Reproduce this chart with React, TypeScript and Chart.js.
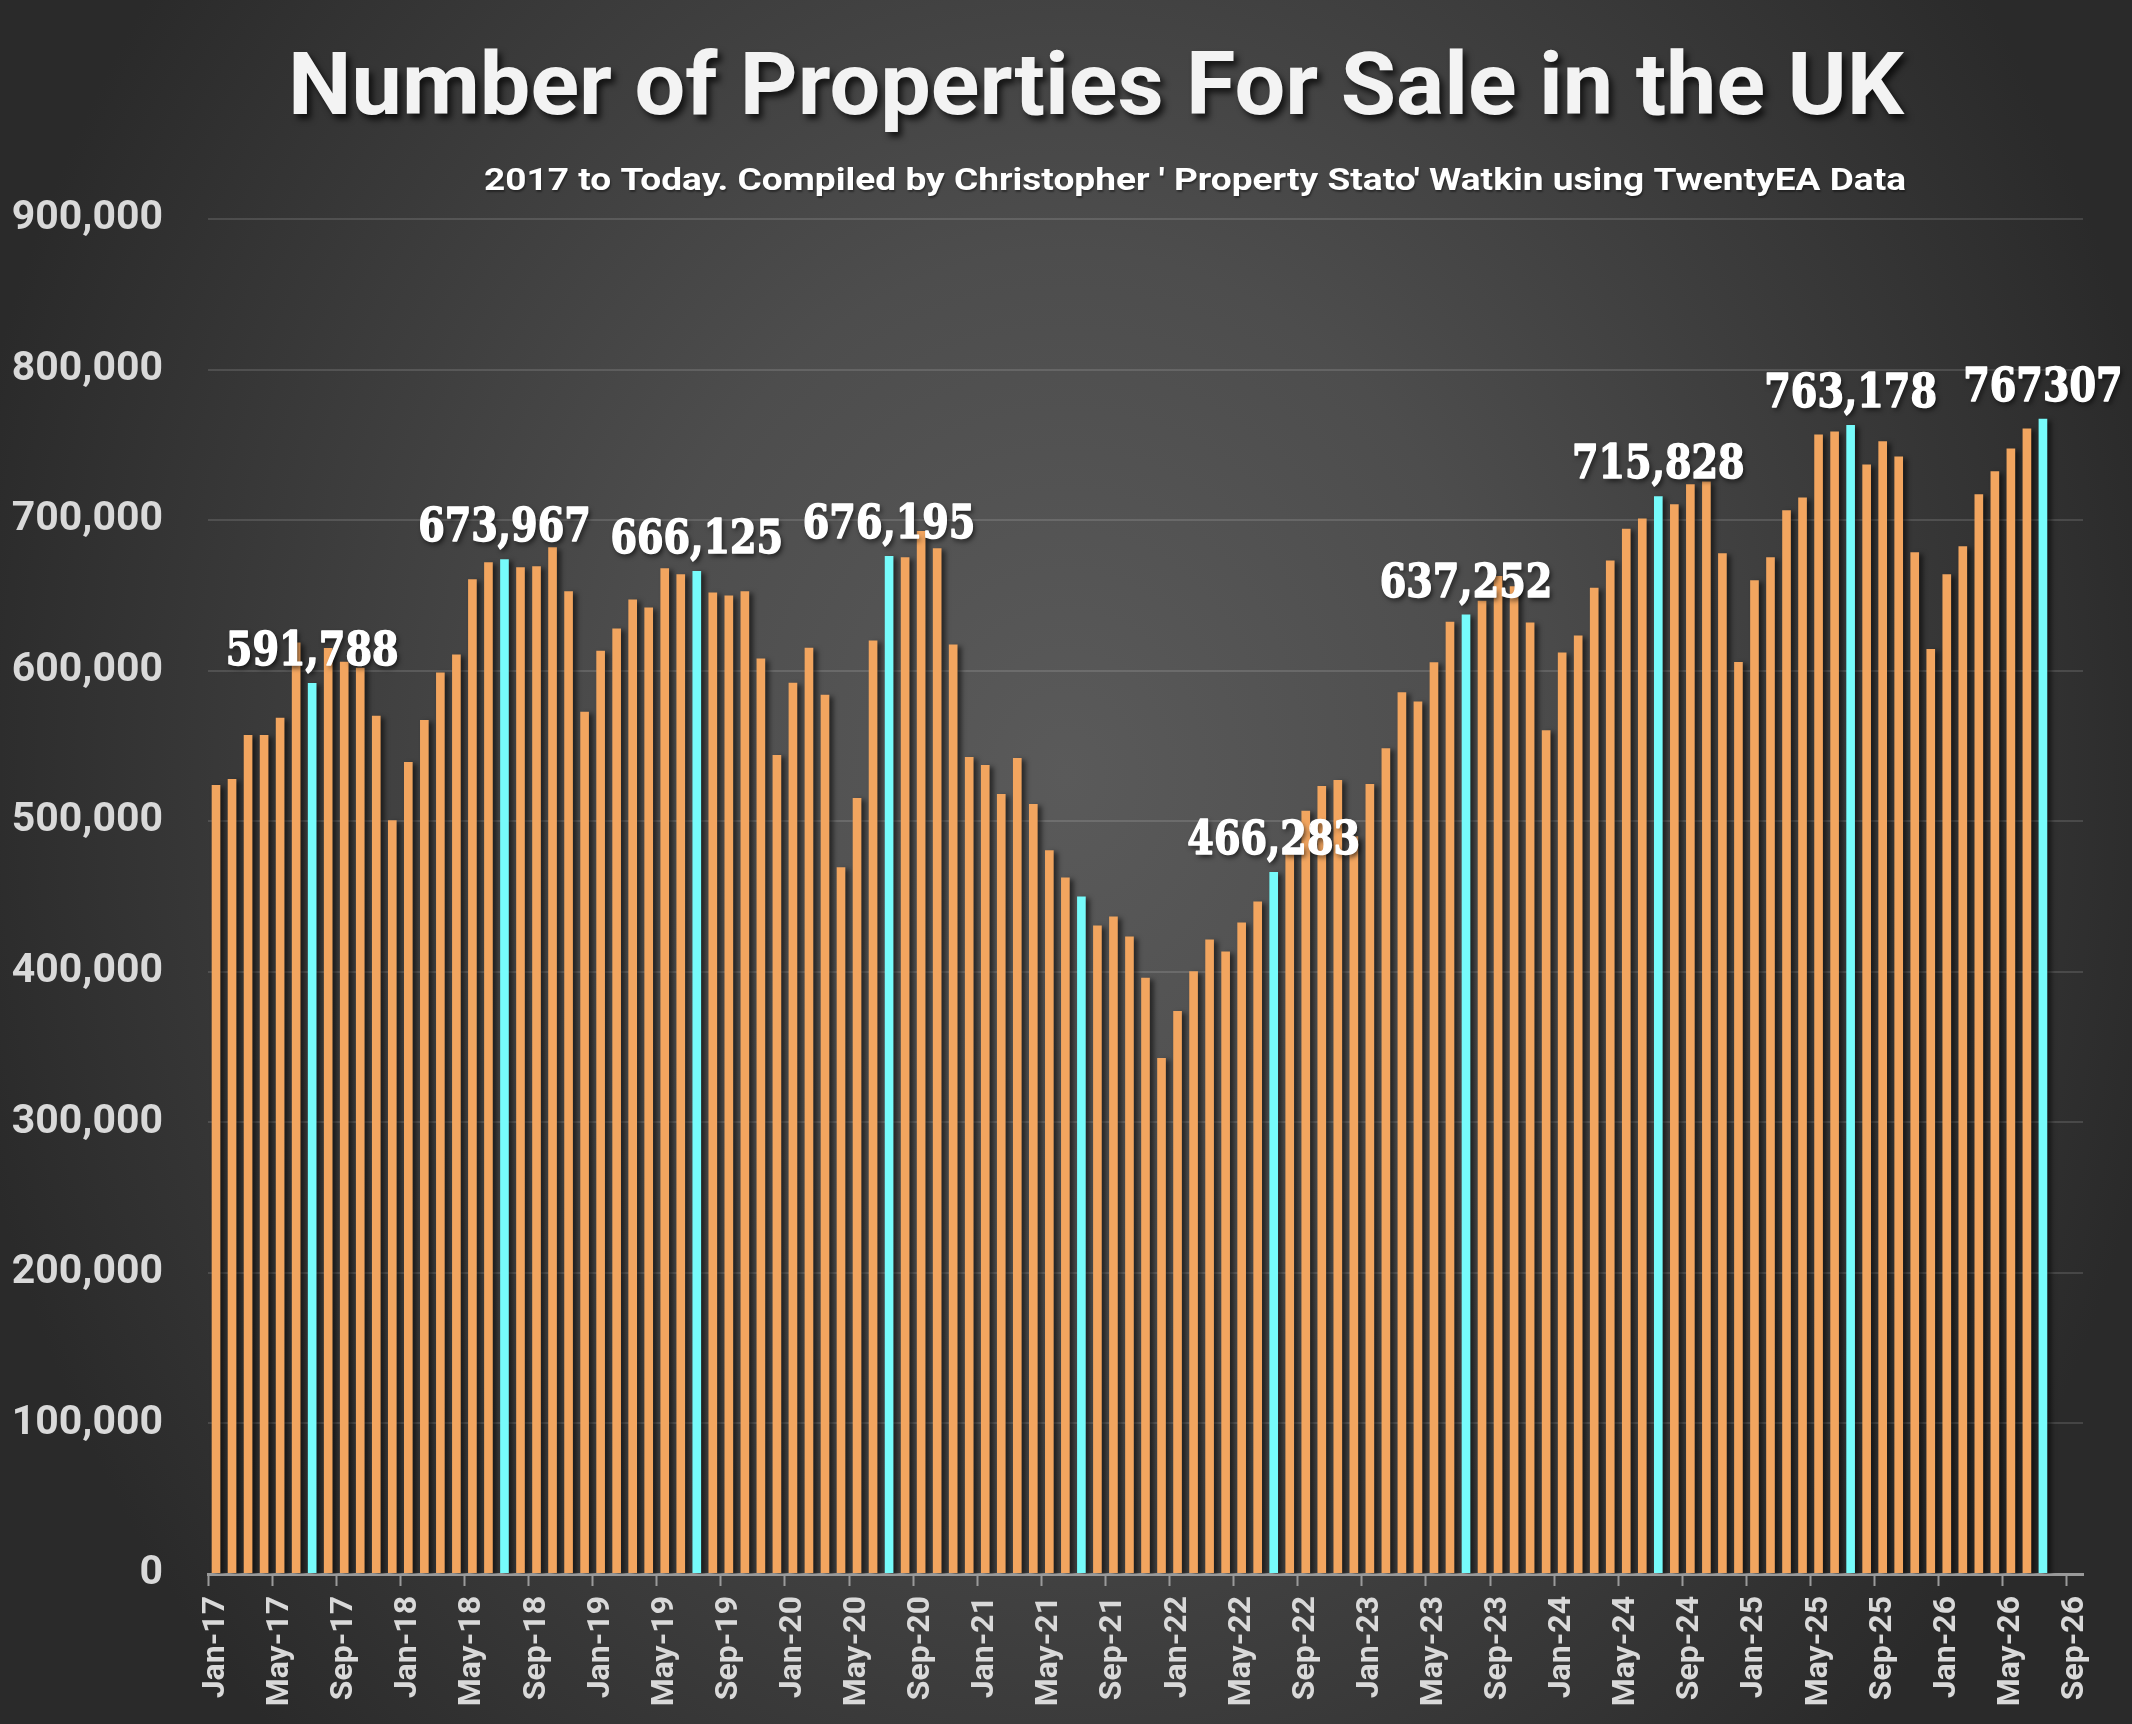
import { useEffect, useRef } from "react";
import Chart from "chart.js/auto";

const TITLE = "Number of Properties For Sale in the UK";
const SUBTITLE =
  "2017 to Today. Compiled by Christopher ' Property Stato' Watkin using TwentyEA Data";

const MONTHS = ["Jan", "Feb", "Mar", "Apr", "May", "Jun", "Jul", "Aug", "Sep", "Oct", "Nov", "Dec"];
const YEARS = ["17", "18", "19", "20", "21", "22", "23", "24", "25", "26"];
const LAST_CATEGORY = "Sep-26";

// monthly counts
const y2017 = [524000, 528000, 557300, 557300, 568700, 618700, 591788, 615000, 606000, 602000, 570000, 500700];
const y2018 = [539300, 567300, 598700, 610700, 660700, 672000, 673967, 668700, 669400, 682000, 652700, 572700];
const y2019 = [613300, 628000, 647300, 642000, 668000, 664000, 666125, 652000, 650000, 652700, 608000, 544000];
const y2020 = [592000, 615300, 584000, 469400, 515400, 620000, 676195, 675300, 692700, 681300, 617300, 542700];
const y2021 = [537400, 518000, 542000, 511400, 480700, 462700, 450000, 430700, 436700, 423400, 396000, 342700];
const y2022 = [373900, 400300, 421500, 413400, 432800, 446700, 466283, 478300, 506900, 523400, 527300, 490000];
const y2023 = [524700, 548500, 585700, 579600, 605600, 632500, 637252, 646400, 662900, 656000, 632000, 560500];
const y2024 = [612100, 623400, 655000, 673100, 694300, 701000, 715828, 710500, 723800, 725700, 678000, 605700];
const y2025 = [660100, 675400, 706500, 715100, 756900, 758900, 763178, 737000, 752300, 742300, 678700, 614400];
const y2026 = [664100, 682600, 717100, 732400, 747600, 760900, 767307];

const calloutMonths = ["Jul-17", "Jul-18", "Jul-19", "Jul-20", "Jul-22", "Jul-23", "Jul-24", "Jul-25", "Jul-26"];
const calloutTexts = ["591,788", "673,967", "666,125", "676,195", "466,283", "637,252", "715,828", "763,178", "767307"];

const HIGHLIGHT_MONTH = "Jul";

const categories: string[] = [];
for (const yy of YEARS) {
  for (const mm of MONTHS) {
    if (categories[categories.length - 1] === LAST_CATEGORY) break;
    categories.push(`${mm}-${yy}`);
  }
}

const observed = [
  ...y2017, ...y2018, ...y2019, ...y2020, ...y2021,
  ...y2022, ...y2023, ...y2024, ...y2025, ...y2026,
];
const listings: (number | null)[] = categories.map((_, i) =>
  i < observed.length ? observed[i] : null
);

const ORANGE = "#f2a55f";
const CYAN = "#76fbfb";
const TEXT_GREY = "#d9d9d9";
const SANS = "Roboto, 'Open Sans', sans-serif";

function drawFittedText(
  ctx: CanvasRenderingContext2D,
  text: string,
  x: number,
  y: number,
  font: string,
  width: number,
  align: CanvasTextAlign,
  color: string,
  shadow: string,
  shadowX: number,
  shadowY: number,
  blur: number
) {
  ctx.save();
  ctx.font = font;
  const measured = ctx.measureText(text).width;
  ctx.translate(x, y);
  ctx.scale(width / measured, 1);
  ctx.textAlign = align;
  ctx.textBaseline = "alphabetic";
  ctx.shadowColor = shadow;
  ctx.shadowOffsetX = shadowX;
  ctx.shadowOffsetY = shadowY;
  ctx.shadowBlur = blur;
  ctx.fillStyle = color;
  ctx.fillText(text, 0, 0);
  ctx.restore();
}

const headerText = {
  id: "headerText",
  afterDraw(chart: Chart) {
    const ctx = chart.ctx;
    drawFittedText(ctx, TITLE, 1096, 114, `bold 88px ${SANS}`, 1616, "center",
      "#f3f3f3", "rgba(0,0,0,0.7)", 4, 5, 6);
    drawFittedText(ctx, SUBTITLE, 1906, 190, `bold 32px ${SANS}`, 1422, "right",
      "#ffffff", "rgba(0,0,0,0.4)", 1, 2, 2);
  },
};

const barShadow = {
  id: "barShadow",
  beforeDatasetsDraw(chart: Chart) {
    const ctx = chart.ctx;
    ctx.save();
    ctx.shadowColor = "rgba(0,0,0,0.55)";
    ctx.shadowOffsetX = 4;
    ctx.shadowOffsetY = 2;
    ctx.shadowBlur = 5;
  },
  afterDatasetsDraw(chart: Chart) {
    chart.ctx.restore();
  },
};

const callouts = {
  id: "callouts",
  afterDatasetsDraw(chart: Chart) {
    const ctx = chart.ctx;
    const meta = chart.getDatasetMeta(0);
    calloutMonths.forEach((month, k) => {
      const el: any = meta.data[categories.indexOf(month)];
      if (!el) return;
      ctx.save();
      ctx.font = "bold 46px 'DejaVu Serif', serif";
      ctx.translate(el.x, el.y - 18);
      ctx.scale(0.83, 1);
      ctx.textAlign = "center";
      ctx.textBaseline = "alphabetic";
      ctx.shadowColor = "rgba(0,0,0,0.65)";
      ctx.shadowOffsetX = 2;
      ctx.shadowOffsetY = 3;
      ctx.shadowBlur = 5;
      ctx.fillStyle = "#ffffff";
      ctx.strokeStyle = "#ffffff";
      ctx.lineWidth = 1.5;
      ctx.lineJoin = "round";
      ctx.fillText(calloutTexts[k], 0, 0);
      ctx.shadowColor = "rgba(0,0,0,0)";
      ctx.strokeText(calloutTexts[k], 0, 0);
      ctx.restore();
    });
  },
};

export default function App() {
  const canvasRef = useRef<HTMLCanvasElement | null>(null);

  useEffect(() => {
    document.body.style.margin = "0";
    if (!canvasRef.current) return;

    const chart = new Chart(canvasRef.current, {
      type: "bar",
      data: {
        labels: categories,
        datasets: [
          {
            data: listings,
            backgroundColor: (c: any) =>
              categories[c.dataIndex]?.startsWith(HIGHLIGHT_MONTH) ? CYAN : ORANGE,
            borderWidth: 0,
            barPercentage: 0.54,
            categoryPercentage: 1,
          },
        ],
      },
      options: {
        responsive: true,
        maintainAspectRatio: false,
        animation: false,
        layout: {
          padding: { top: 219, right: 49, left: 0, bottom: 0 },
        },
        plugins: {
          legend: { display: false },
          tooltip: { enabled: false },
        },
        scales: {
          x: {
            offset: true,
            grid: {
              offset: true,
              drawOnChartArea: false,
              drawTicks: true,
              tickLength: 12,
              tickWidth: 2,
              color: (c: any) => (c.index % 4 === 0 ? "#9a9a9a" : "rgba(0,0,0,0)"),
              tickColor: (c: any) => (c.index % 4 === 0 ? "#9a9a9a" : "rgba(0,0,0,0)"),
            },
            border: { display: true, color: "#9a9a9a", width: 3 },
            ticks: {
              autoSkip: false,
              maxRotation: 90,
              minRotation: 90,
              padding: 10,
              color: TEXT_GREY,
              font: { family: SANS, weight: "bold", size: 32 },
              callback: (_v: any, i: number) => (i % 4 === 0 ? categories[i] : ""),
            },
            afterFit: (scale: any) => {
              scale.height = 150;
            },
          },
          y: {
            min: 0,
            max: 900000,
            grid: {
              color: "rgba(255,255,255,0.13)",
              lineWidth: 2,
              drawTicks: false,
            },
            border: { display: false },
            ticks: {
              stepSize: 100000,
              padding: 45,
              color: TEXT_GREY,
              font: { family: SANS, weight: "bold", size: 41 },
              callback: (v: any) => Number(v).toLocaleString("en-US"),
            },
            afterFit: (scale: any) => {
              scale.width = 208;
            },
          },
        },
      },
      plugins: [barShadow, callouts, headerText],
    });

    return () => {
      chart.destroy();
    };
  }, []);

  return (
    <div
      style={{
        position: "fixed",
        left: 0,
        top: 0,
        width: 2132,
        height: 1724,
        background:
          "radial-gradient(ellipse 1250px 1500px at 50% 45%, #5a5a5a 0%, #4d4d4d 35%, #2a2a2a 90%)",
      }}
    >
      <canvas ref={canvasRef}></canvas>
    </div>
  );
}
